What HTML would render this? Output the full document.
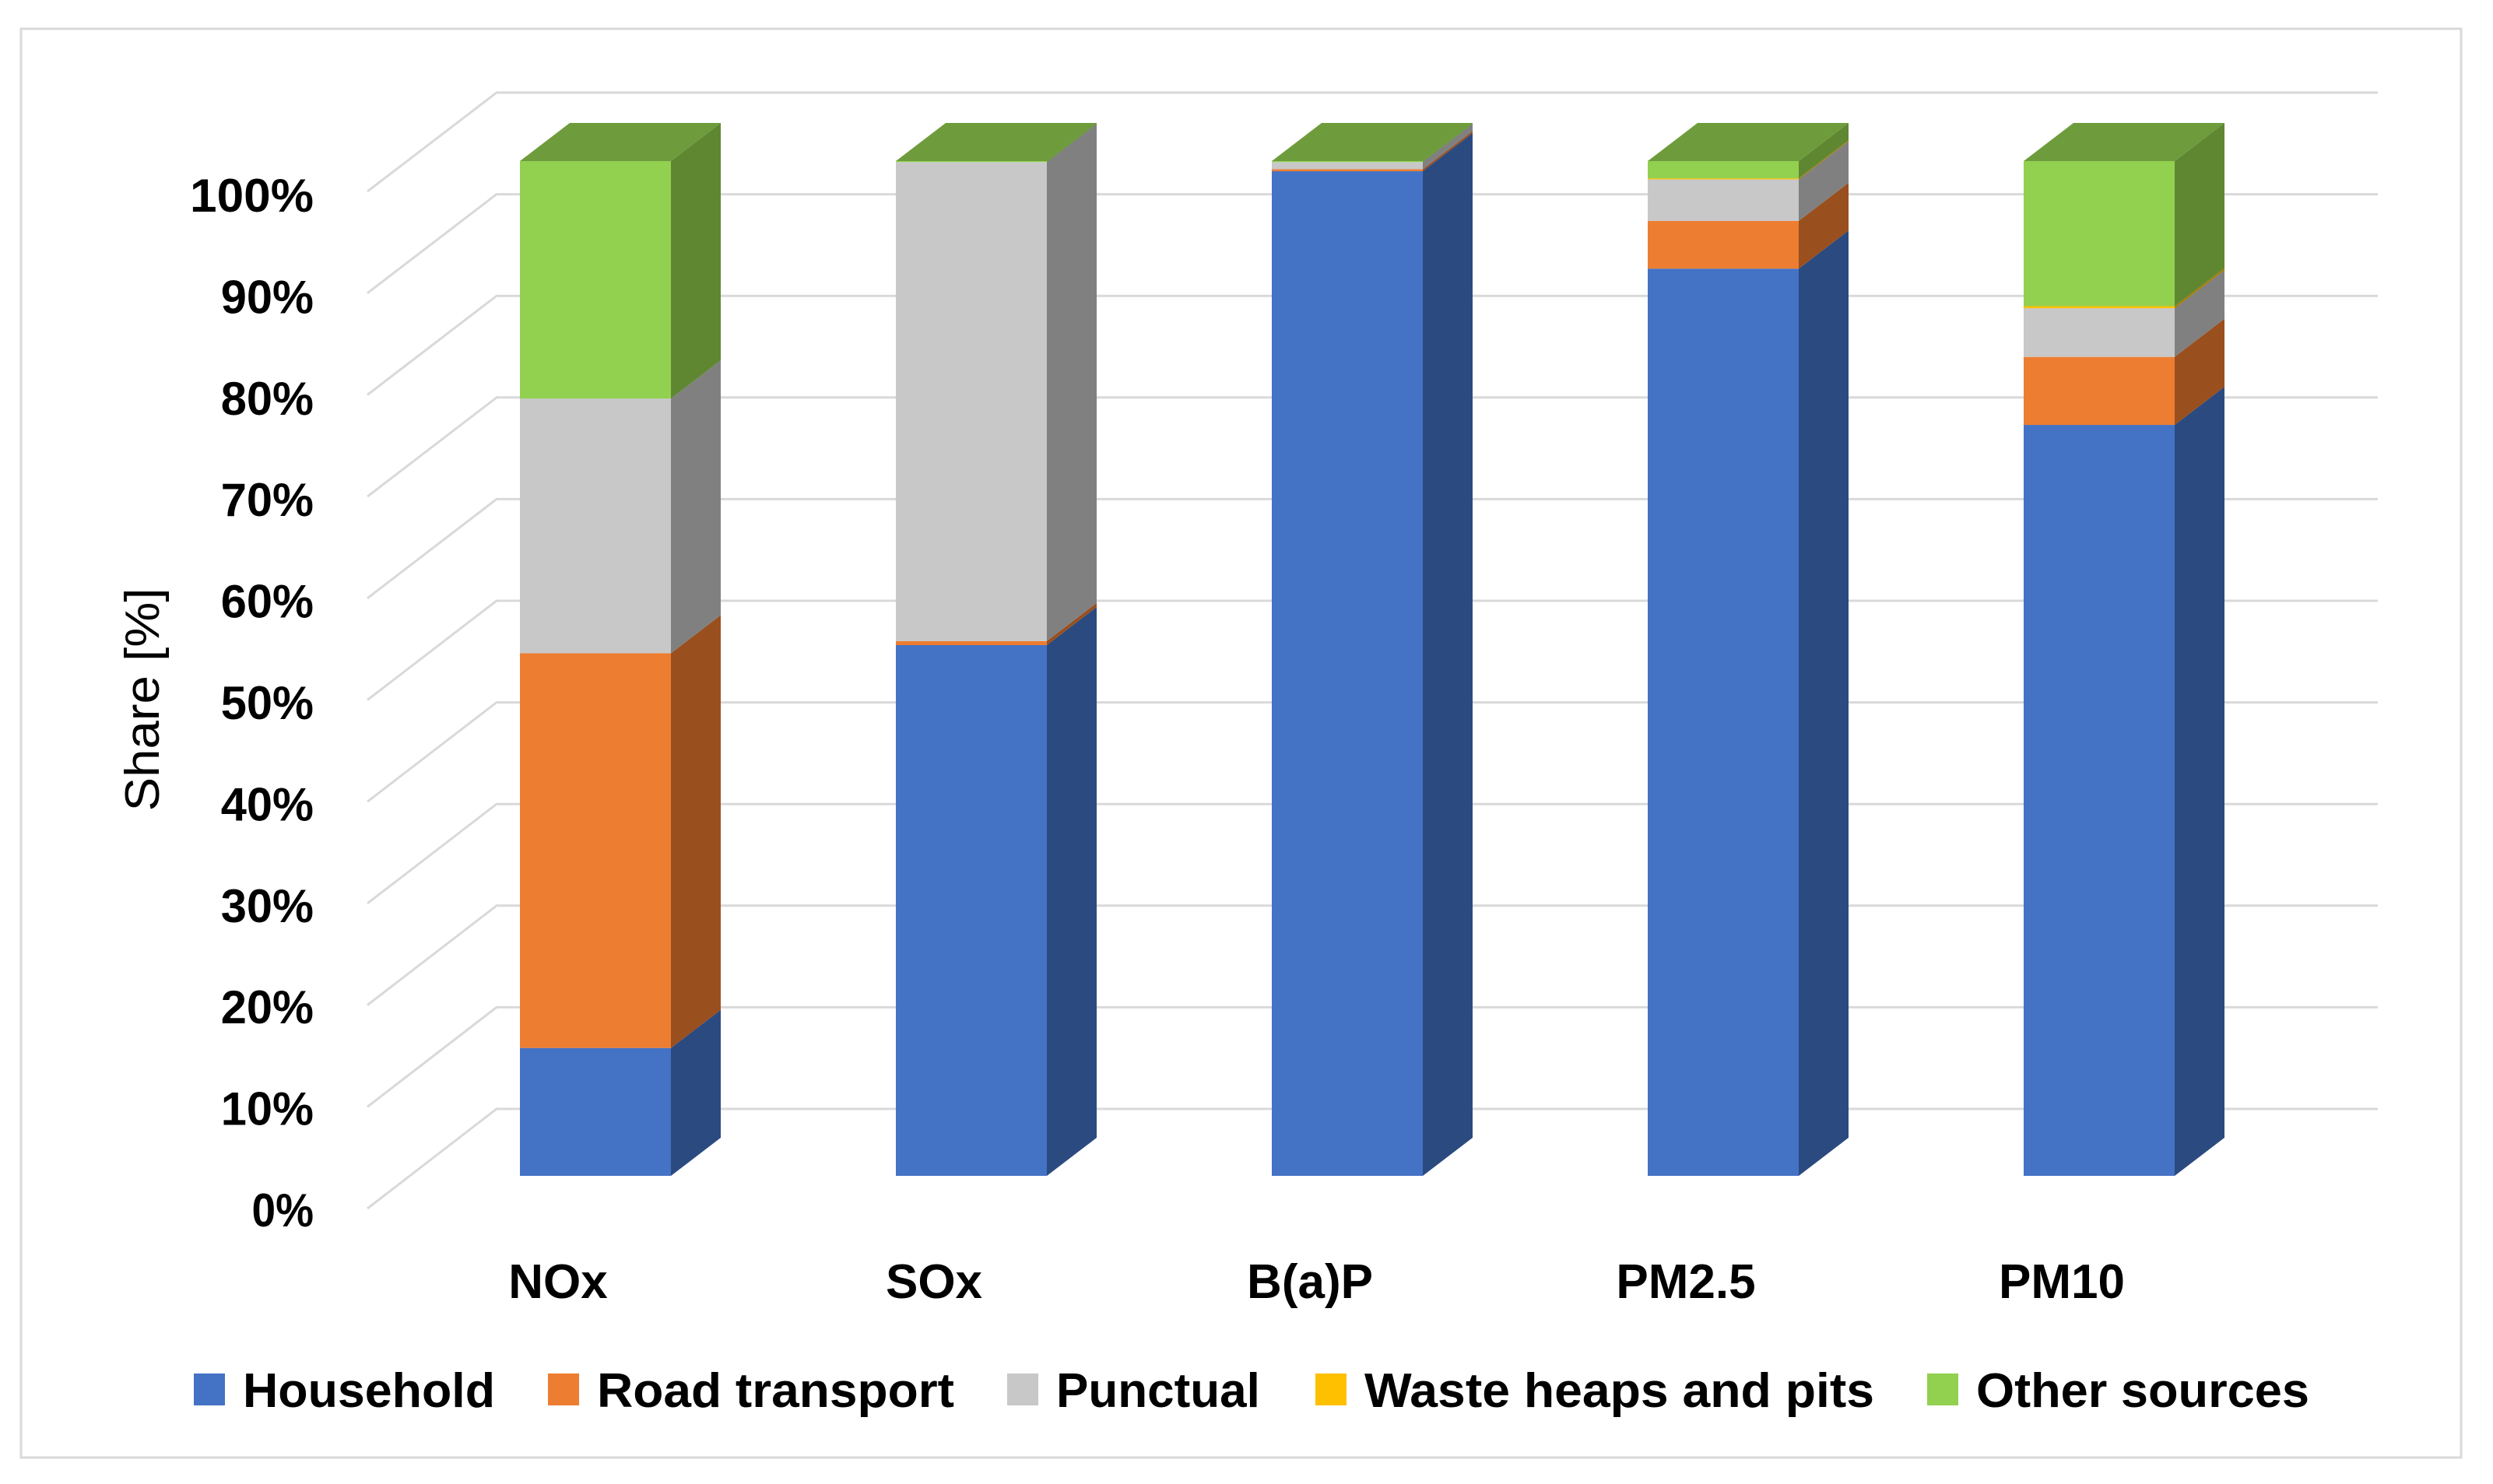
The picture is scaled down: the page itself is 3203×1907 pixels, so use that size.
<!DOCTYPE html>
<html><head><meta charset="utf-8"><style>
html,body{margin:0;padding:0;background:#fff;}
svg{display:block;}
text{font-family:"Liberation Sans",sans-serif;fill:#000;}
</style></head><body>
<svg id="chart" width="3203" height="1907" viewBox="0 0 3203 1907" xmlns="http://www.w3.org/2000/svg">
<rect x="27" y="37" width="3135" height="1836" fill="#fff" stroke="#d9d9d9" stroke-width="3"/>
<g id="grid"></g>
<g id="yticks"></g>
<text transform="translate(204,899) rotate(-90)" text-anchor="middle" font-size="62" textLength="287" lengthAdjust="spacingAndGlyphs">Share [%]</text>
<g id="bars"></g>
<g id="xlabels"></g>
<g id="legend"></g>
</svg>
<script>
const categories = ["NOx","SOx","B(a)P","PM2.5","PM10"];
const seriesNames = ["Household","Road transport","Punctual","Waste heaps and pits","Other sources"];
const household = [12.6, 52.3, 99.0, 89.4, 74.0];
const roadTransport = [38.9, 0.4, 0.2, 4.7, 6.7];
const punctual = [25.1, 47.2, 0.7, 4.1, 4.8];
const wasteHeaps = [0.0, 0.0, 0.0, 0.1, 0.2];
const otherSources = [23.4, 0.1, 0.1, 1.7, 14.3];
const yTicks = [0,10,20,30,40,50,60,70,80,90,100];
const yTickLabels = ["0%","10%","20%","30%","40%","50%","60%","70%","80%","90%","100%"];

const NS="http://www.w3.org/2000/svg";
const series=[household,roadTransport,punctual,wasteHeaps,otherSources];
const front=["#4472C4","#ED7D31","#C8C8C8","#FFC000","#92D050"];
const side=["#2B4A80","#9A4F1E","#808080","#A67D00","#5F8731"];
const topc=["#3A62A8","#C96A2A","#A9A9A9","#D9A300","#6E9C3C"];
const DX=64, DY=-49;
function yBar(v){return 1511 - v*13.04;}
function yBack(v){return 1425 - v*13.06;}
function yFront(v){return 1553 - v*13.07;}
function xBar(i){return 668 + i*483;}
const BW=194;
function el(tag,attrs,parent){const e=document.createElementNS(NS,tag);for(const k in attrs)e.setAttribute(k,attrs[k]);parent.appendChild(e);return e;}

const grid=document.getElementById('grid');
const yt=document.getElementById('yticks');
yTicks.forEach((v,i)=>{
  const p=el('polyline',{points:`472,${yFront(v)} 638,${yBack(v)} 3055,${yBack(v)}`,fill:'none',stroke:'#d9d9d9','stroke-width':3},grid);
  
  
  const t=el('text',{x:403,y:yFront(v)-302+21+0,'text-anchor':'end','font-size':60,'font-weight':'bold',textLength:yTickLabels[i].length*39.75,lengthAdjust:'spacingAndGlyphs'},yt);
  t.setAttribute('y', 251 + (100-v)*13.04 + 21);
  t.textContent=yTickLabels[i];
  
  
});

const bars=document.getElementById('bars');
const xl=document.getElementById('xlabels');
categories.forEach((c,i)=>{
  const x0=xBar(i), x1=x0+BW;
  const g=el('g',{},bars);
  
  
  let cum=0, lastIdx=0;
  series.forEach((s,k)=>{
    const v=s[i]; if(v<=0) return;
    const yb=yBar(cum), ytp=yBar(cum+v);
    const r=el('rect',{x:x0,y:ytp,width:BW,height:yb-ytp,fill:front[k]},g);
    
    
    const sd=el('polygon',{points:`${x1},${yb} ${x1+DX},${yb+DY} ${x1+DX},${ytp+DY} ${x1},${ytp}`,fill:side[k]},g);
    
    
    cum+=v; lastIdx=k;
  });
  const yTop=yBar(cum);
  const tp=el('polygon',{points:`${x0},${yTop} ${x0+DX},${yTop+DY} ${x1+DX},${yTop+DY} ${x1},${yTop}`,fill:topc[lastIdx]},g);
  
  
  const t=el('text',{x:x0+49,y:1668,'text-anchor':'middle','font-size':62,'font-weight':'bold'},xl);
  t.textContent=c;
  
  
});

const legend=document.getElementById('legend');
const legX=[249,704,1294,1690,2476];
const legW=[324,459,null,655,428];
seriesNames.forEach((n,k)=>{
  const g=el('g',{},legend);
  
  
  el('rect',{x:legX[k],y:1765,width:40,height:41,fill:front[k]},g);
  const t=el('text',{x:legX[k]+63,y:1808,'font-size':62,'font-weight':'bold'},g);
  if(legW[k]){t.setAttribute('textLength',legW[k]);t.setAttribute('lengthAdjust','spacingAndGlyphs');}
  t.textContent=n;
});
</script>
</body></html>
